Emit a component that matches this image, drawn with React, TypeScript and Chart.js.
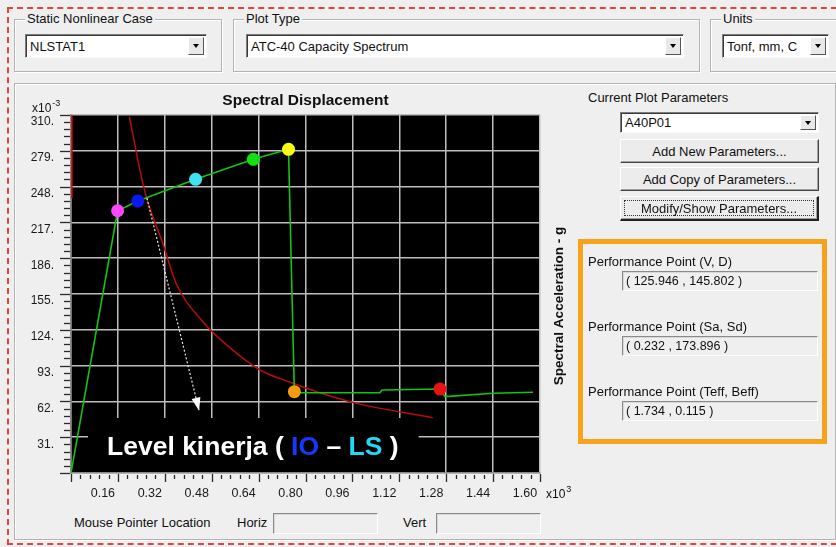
import React, { useEffect, useRef } from "react";
import { Chart, registerables } from "chart.js";

Chart.register(...registerables);

// ---------------- data (Sd in mm, Sa in 1e-3 g) ----------------
const xTickValues = [0, 160, 320, 480, 640, 800, 960, 1120, 1280, 1440, 1600];
const yTickValues = [0, 31, 62, 93, 124, 155, 186, 217, 248, 279, 310];
const minorPerMajor = 4;

const capacityDisp = [0, 159, 228, 425, 622, 742, 762, 781, 1054, 1061, 1259, 1276, 1440, 1576];
const capacityAcc = [0, 227.1, 235.5, 254.3, 271.6, 280.3, 70.4, 69.5, 69.5, 71.9, 72.7, 66.1, 69.0, 69.9];

const demandDisp = [199, 252, 315, 358, 450, 540, 645, 758, 838, 975, 1234];
const demandAcc = [308.5, 243.6, 197.4, 164.5, 131, 109, 89.2, 77.7, 70.4, 60.3, 47.9];

const elasticDisp = [3, 3];
const elasticAcc = [310, 238];

const stepDisp = [159, 228, 425, 622, 742, 762, 1259];
const stepAcc = [227.1, 235.5, 254.3, 271.6, 280.3, 70.4, 72.7];
const stepColors = ["#ff46ff", "#0a18f2", "#3fe2f2", "#12e012", "#ffff14", "#f49c12", "#e81414"];

const arrowDisp = [259, 437];
const arrowAcc = [238, 54];

const annotationParts = [
  { text: "Level kinerja ( ", color: "#ffffff" },
  { text: "IO", color: "#1538ff" },
  { text: " \u2013 ", color: "#ffffff" },
  { text: "LS", color: "#22d8f2" },
  { text: " )", color: "#ffffff" },
];

const perfLabels = ["Performance Point (V, D)", "Performance Point (Sa, Sd)", "Performance Point (Teff, Beff)"];
const perfValues = ["( 125.946 , 145.802 )", "( 0.232 , 173.896 )", "( 1.734 , 0.115 )"];

// ---------------- styling ----------------
const FONT = '"Liberation Sans", Arial, sans-serif';
const BG = "#efefef";
const ANN_FONT = `bold 26.5px ${FONT}`;

const toPoints = (xs: number[], ys: number[]) => xs.map((x, i) => ({ x, y: ys[i] }));

const decorPlugin = {
  id: "decor",
  beforeDraw(chart: any) {
    const { ctx, chartArea: a } = chart;
    ctx.save();
    ctx.fillStyle = "#000";
    ctx.fillRect(a.left, a.top, a.right - a.left, a.bottom - a.top);
    ctx.restore();
  },
  beforeDatasetsDraw(chart: any) {
    const { ctx, chartArea: a } = chart;
    ctx.save();
    ctx.font = ANN_FONT;
    const w = annotationParts.reduce((s, p) => s + ctx.measureText(p.text).width, 0);
    const x0 = a.left + 36;
    ctx.fillStyle = "#000";
    ctx.fillRect(x0 - 19, a.bottom - 55, w + 39, 54);
    ctx.restore();
  },
  afterDatasetsDraw(chart: any) {
    const { ctx } = chart;
    const xs = chart.scales.x;
    const ys = chart.scales.y;
    const n = arrowDisp.length;
    const x0 = xs.getPixelForValue(arrowDisp[n - 2]);
    const y0 = ys.getPixelForValue(arrowAcc[n - 2]);
    const x1 = xs.getPixelForValue(arrowDisp[n - 1]);
    const y1 = ys.getPixelForValue(arrowAcc[n - 1]);
    const ang = Math.atan2(y1 - y0, x1 - x0);
    const L = 13, W = 4.5;
    const bx = x1 - L * Math.cos(ang), by = y1 - L * Math.sin(ang);
    ctx.save();
    ctx.fillStyle = "#ffffff";
    ctx.beginPath();
    ctx.moveTo(x1, y1);
    ctx.lineTo(bx + W * Math.sin(ang), by - W * Math.cos(ang));
    ctx.lineTo(bx - W * Math.sin(ang), by + W * Math.cos(ang));
    ctx.closePath();
    ctx.fill();
    ctx.restore();
  },
  afterDraw(chart: any) {
    const { ctx, chartArea: a } = chart;
    const xs = chart.scales.x;
    const ys = chart.scales.y;
    ctx.save();
    // tick marks (major + minor)
    ctx.strokeStyle = "#2a2a2a";
    ctx.lineWidth = 1.3;
    for (let i = 0; i < xTickValues.length; i++) {
      const v = xTickValues[i];
      const px = Math.round(xs.getPixelForValue(v)) + 0.5;
      ctx.beginPath();
      ctx.moveTo(px, a.bottom + 1);
      ctx.lineTo(px, a.bottom + 9);
      ctx.stroke();
      if (i < xTickValues.length - 1) {
        const step = (xTickValues[i + 1] - v) / (minorPerMajor + 1);
        for (let k = 1; k <= minorPerMajor; k++) {
          const mx = Math.round(xs.getPixelForValue(v + k * step)) + 0.5;
          ctx.beginPath();
          ctx.moveTo(mx, a.bottom + 2);
          ctx.lineTo(mx, a.bottom + 6);
          ctx.stroke();
        }
      }
    }
    for (let i = 0; i < yTickValues.length; i++) {
      const v = yTickValues[i];
      const py = Math.round(ys.getPixelForValue(v)) + 0.5;
      ctx.beginPath();
      ctx.moveTo(a.left - 11, py);
      ctx.lineTo(a.left - 1, py);
      ctx.stroke();
      if (i < yTickValues.length - 1) {
        const step = (yTickValues[i + 1] - v) / (minorPerMajor + 1);
        for (let k = 1; k <= minorPerMajor; k++) {
          const my = Math.round(ys.getPixelForValue(v + k * step)) + 0.5;
          ctx.beginPath();
          ctx.moveTo(a.left - 7, my);
          ctx.lineTo(a.left - 1, my);
          ctx.stroke();
        }
      }
    }
    // title
    ctx.fillStyle = "#111";
    ctx.textAlign = "center";
    ctx.textBaseline = "middle";
    ctx.font = `bold 15.5px ${FONT}`;
    ctx.fillText("Spectral Displacement", (a.left + a.right) / 2, a.top - 14);
    // y multiplier
    ctx.textAlign = "left";
    ctx.textBaseline = "alphabetic";
    ctx.font = `12px ${FONT}`;
    ctx.fillText("x10", a.left - 39, a.top - 3);
    let w = ctx.measureText("x10").width;
    ctx.font = `9px ${FONT}`;
    ctx.fillText("-3", a.left - 39 + w + 1, a.top - 9);
    // x multiplier
    ctx.font = `12px ${FONT}`;
    ctx.fillText("x10", a.right + 6, a.bottom + 25);
    w = ctx.measureText("x10").width;
    ctx.font = `9px ${FONT}`;
    ctx.fillText("3", a.right + 6 + w + 1, a.bottom + 19);
    // y title on the right
    ctx.save();
    ctx.translate(a.right + 19, (a.top + a.bottom) / 2 + 12);
    ctx.rotate(-Math.PI / 2);
    ctx.textAlign = "center";
    ctx.textBaseline = "middle";
    ctx.font = `bold 13.5px ${FONT}`;
    ctx.fillStyle = "#111";
    ctx.fillText("Spectral Acceleration - g", 0, 0);
    ctx.restore();
    // annotation text
    ctx.font = ANN_FONT;
    ctx.textAlign = "left";
    ctx.textBaseline = "alphabetic";
    let tx = a.left + 36;
    for (const p of annotationParts) {
      ctx.fillStyle = p.color;
      ctx.fillText(p.text, tx, a.bottom - 18);
      tx += ctx.measureText(p.text).width;
    }
    ctx.restore();
  },
};

function ChartView() {
  const ref = useRef<HTMLCanvasElement | null>(null);
  useEffect(() => {
    if (!ref.current) return;
    const chart = new Chart(ref.current, {
      type: "scatter",
      data: {
        datasets: [
          {
            label: "Steps",
            data: toPoints(stepDisp, stepAcc),
            showLine: false,
            pointRadius: 6.5,
            pointBackgroundColor: stepColors,
            pointBorderWidth: 0,
            order: 0,
          } as any,
          {
            label: "Guide",
            data: toPoints(arrowDisp, arrowAcc),
            showLine: true,
            borderColor: "#e6e6e6",
            borderWidth: 1.2,
            borderDash: [2, 2],
            pointRadius: 0,
            order: 1,
          },
          {
            label: "Capacity",
            data: toPoints(capacityDisp, capacityAcc),
            showLine: true,
            borderColor: "#14c414",
            borderWidth: 1.6,
            pointRadius: 0,
            order: 2,
          },
          {
            label: "Demand",
            data: toPoints(demandDisp, demandAcc),
            showLine: true,
            borderColor: "#b80c0c",
            borderWidth: 1.5,
            pointRadius: 0,
            cubicInterpolationMode: "monotone",
            order: 3,
          } as any,
          {
            label: "Elastic",
            data: toPoints(elasticDisp, elasticAcc),
            showLine: true,
            borderColor: "#d41010",
            borderWidth: 1.5,
            pointRadius: 0,
            order: 4,
          },
        ],
      },
      options: {
        animation: false,
        responsive: false,
        devicePixelRatio: 1,
        events: [],
        layout: { padding: { top: 27, right: 40, bottom: 0, left: 0 } },
        plugins: { legend: { display: false }, tooltip: { enabled: false }, title: { display: false } },
        scales: {
          x: {
            type: "linear",
            min: 0,
            max: 1600,
            afterBuildTicks: (s: any) => {
              s.ticks = xTickValues.map((v) => ({ value: v }));
            },
            afterFit: (s: any) => {
              s.height = 35;
            },
            grid: { color: "#bdbdbd", lineWidth: 1.5, drawTicks: false },
            border: { color: "#8a8a8a", width: 1.5 },
            ticks: {
              padding: 13,
              labelOffset: -15,
              maxRotation: 0,
              autoSkip: false,
              color: "#1a1a1a",
              font: { family: FONT, size: 12.5 },
              callback: (v: any) => (Number(v) === 0 ? "" : (Number(v) / 1000).toFixed(2)),
            },
          },
          y: {
            type: "linear",
            min: 0,
            max: 310,
            afterBuildTicks: (s: any) => {
              s.ticks = yTickValues.map((v) => ({ value: v }));
            },
            afterFit: (s: any) => {
              s.width = 51;
            },
            grid: { color: "#bdbdbd", lineWidth: 1.5, drawTicks: false },
            border: { color: "#8a8a8a", width: 1.5 },
            ticks: {
              padding: 17,
              labelOffset: 7,
              autoSkip: false,
              color: "#1a1a1a",
              font: { family: FONT, size: 12 },
              callback: (v: any) => (Number(v) === 0 ? "" : `${v}.`),
            },
          },
        },
      },
      plugins: [decorPlugin],
    });
    return () => chart.destroy();
  }, []);
  return (
    <div style={{ position: "absolute", left: 20, top: 88, width: 560, height: 420 }}>
      <canvas ref={ref} width={560} height={420} style={{ display: "block", width: 560, height: 420 }} />
    </div>
  );
}

const box = (x: number, y: number, w: number, h: number): React.CSSProperties => ({
  position: "absolute",
  left: x,
  top: y,
  width: w,
  height: h,
  boxSizing: "border-box",
});

function Group({ x, y, w, h, label }: { x: number; y: number; w: number; h: number; label?: string }) {
  return (
    <div style={{ ...box(x, y, w, h), border: "1px solid #b4b4b4", boxShadow: "1px 1px 0 #fff, inset 1px 1px 0 #fff" }}>
      {label ? (
        <span style={{ position: "absolute", left: 10, top: -9, background: BG, padding: "0 2px", lineHeight: "16px", fontSize: 13 }}>
          {label}
        </span>
      ) : null}
    </div>
  );
}

function DropArrow() {
  return (
    <div
      style={{
        position: "absolute",
        right: 2,
        top: 2,
        bottom: 2,
        width: 16,
        background: "#e9e9e9",
        borderTop: "1px solid #fff",
        borderLeft: "1px solid #fff",
        borderRight: "1px solid #555",
        borderBottom: "1px solid #555",
        boxSizing: "border-box",
      }}
    >
      <div
        style={{
          position: "absolute",
          left: 4,
          top: "50%",
          marginTop: -2,
          width: 0,
          height: 0,
          borderLeft: "3.5px solid transparent",
          borderRight: "3.5px solid transparent",
          borderTop: "4px solid #000",
        }}
      />
    </div>
  );
}

function Combo({ x, y, w, h, text }: { x: number; y: number; w: number; h: number; text: string }) {
  return (
    <div
      style={{
        ...box(x, y, w, h),
        background: "#fff",
        borderTop: "1px solid #7c7c7c",
        borderLeft: "1px solid #7c7c7c",
        borderRight: "1px solid #fafafa",
        borderBottom: "1px solid #fafafa",
        boxShadow: "inset 1px 1px 0 #3a3a3a",
      }}
    >
      <span style={{ position: "absolute", left: 4, top: 0, bottom: 0, display: "flex", alignItems: "center", fontSize: 13 }}>{text}</span>
      <DropArrow />
    </div>
  );
}

function Button({ x, y, w, h, text, focus }: { x: number; y: number; w: number; h: number; text: string; focus?: boolean }) {
  return (
    <div
      style={{
        ...box(x, y, w, h),
        background: "#ececec",
        borderTop: "1px solid #fff",
        borderLeft: "1px solid #fff",
        borderRight: focus ? "2px solid #222" : "1px solid #444",
        borderBottom: focus ? "2px solid #222" : "1px solid #444",
        boxShadow: "inset -1px -1px 0 #a0a0a0",
        display: "flex",
        alignItems: "center",
        justifyContent: "center",
        fontSize: 13,
      }}
    >
      {focus ? <div style={{ position: "absolute", left: 3, top: 3, right: 3, bottom: 3, border: "1px dotted #333" }} /> : null}
      <span style={{ position: "relative" }}>{text}</span>
    </div>
  );
}

function Field({ x, y, w, h, text }: { x: number; y: number; w: number; h: number; text?: string }) {
  return (
    <div
      style={{
        ...box(x, y, w, h),
        borderTop: "1px solid #8a8a8a",
        borderLeft: "1px solid #8a8a8a",
        borderRight: "1px solid #fff",
        borderBottom: "1px solid #fff",
        boxShadow: "inset 1px 1px 0 #d8d8d8",
        fontSize: 12.5,
        display: "flex",
        alignItems: "center",
        paddingLeft: 3,
      }}
    >
      {text}
    </div>
  );
}

function Label({ x, y, text }: { x: number; y: number; text: string }) {
  return <div style={{ position: "absolute", left: x, top: y - 8, lineHeight: "16px", fontSize: 13, whiteSpace: "nowrap" }}>{text}</div>;
}

export default function App() {
  return (
    <div
      style={{
        position: "absolute",
        left: 0,
        top: 0,
        width: 836,
        height: 547,
        background: BG,
        overflow: "hidden",
        fontFamily: FONT,
        color: "#111",
      }}
    >
      <div style={{ ...box(7, 7, 850, 538), border: "2px dashed #e4443c" }} />

      <Group x={14} y={19} w={208} h={53} label="Static Nonlinear Case" />
      <Combo x={25} y={34} w={182} h={24} text="NLSTAT1" />
      <Group x={233} y={19} w={467} h={53} label="Plot Type" />
      <Combo x={246} y={34} w={438} h={24} text="ATC-40 Capacity Spectrum" />
      <Group x={710} y={19} w={140} h={53} label="Units" />
      <Combo x={722} y={34} w={107} h={24} text="Tonf, mm, C" />

      <Group x={14} y={83} w={822} h={457} />

      <ChartView />

      <Label x={588} y={98} text="Current Plot Parameters" />
      <Combo x={620} y={112} w={199} h={21} text="A40P01" />
      <Button x={620} y={139} w={199} h={24} text="Add New Parameters..." />
      <Button x={620} y={167} w={199} h={24} text="Add Copy of Parameters..." />
      <Button x={620} y={196} w={199} h={25} text="Modify/Show Parameters..." focus />

      <div style={{ ...box(578, 239, 249, 205), border: "5px solid #f7a21b" }} />
      <Label x={588} y={262} text={perfLabels[0]} />
      <Field x={622} y={271} w={196} h={20} text={perfValues[0]} />
      <Label x={588} y={327} text={perfLabels[1]} />
      <Field x={622} y={336} w={196} h={20} text={perfValues[1]} />
      <Label x={588} y={392} text={perfLabels[2]} />
      <Field x={622} y={401} w={196} h={20} text={perfValues[2]} />

      <Label x={74} y={523} text="Mouse Pointer Location" />
      <Label x={237} y={523} text="Horiz" />
      <Field x={273} y={513} w={105} h={21} />
      <Label x={403} y={523} text="Vert" />
      <Field x={436} y={513} w={105} h={21} />
    </div>
  );
}
